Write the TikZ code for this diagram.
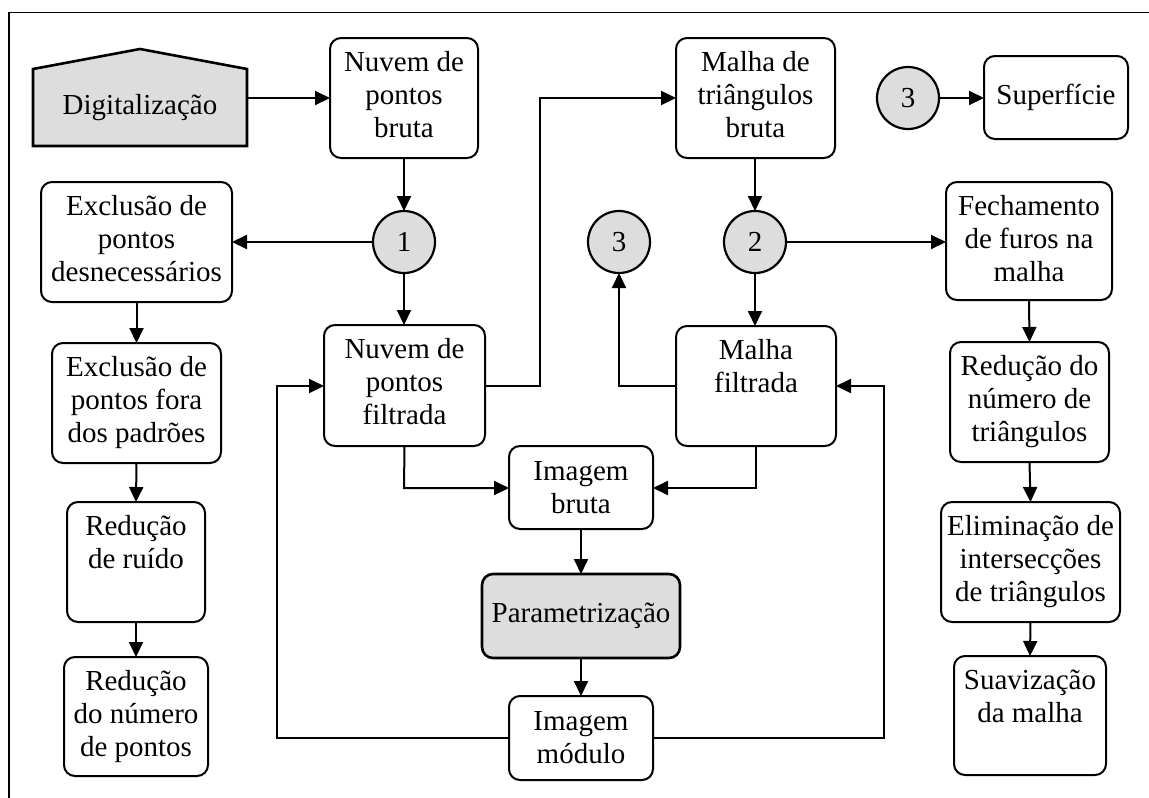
\documentclass[tikz,border=0pt]{standalone}
\usepackage{fontspec}
\setmainfont{Liberation Serif}
\usetikzlibrary{arrows.meta}
\definecolor{boxgray}{HTML}{DDDDDD}
\newcommand\topbox[3]{\parbox[c][#2pt][t]{#1pt}{\centering\rule{0pt}{33pt}#3}}
\newcommand\midbox[3]{\parbox[c][#2pt][c]{#1pt}{\centering #3}}
\tikzset{
  box/.style={draw, rounded corners=11pt, line width=2pt, inner sep=0pt, outer sep=0pt},
  graybox/.style={box, fill=boxgray, line width=2.6pt},
  conn/.style={draw, line width=2.2pt, circle, fill=boxgray, minimum size=62pt, inner sep=0pt, outer sep=0pt},
  arr/.style={line width=2pt, -{Triangle[length=15pt,width=14pt]}},
}
\begin{document}
\begin{tikzpicture}[x=1pt,y=-1pt,font=\fontsize{29}{33}\selectfont]
\useasboundingbox (0,0) rectangle (1149,798);
% frame
\draw[line width=1.6pt] (9,800) -- (9,12.5) -- (1152,12.5);
% Digitalizacao
\draw[line width=2.6pt, fill=boxgray] (33,146) -- (33,69) -- (140,49) -- (247,69) -- (247,146) -- cycle;
\node[inner sep=0pt, minimum width=214pt, minimum height=77pt] (dig) at (140,107.5) {Digitalização};
% boxes
\node[box] (nb) at (404,98) {\topbox{148}{120}{Nuvem de\\pontos\\bruta}};
\node[box] (ex1) at (136.5,242) {\topbox{191}{120}{Exclusão de\\pontos\\desnecessários}};
\node[box] (ex2) at (136.5,403) {\topbox{169}{120}{Exclusão de\\pontos fora\\dos padrões}};
\node[box] (rr) at (136,562) {\topbox{138}{120}{Redução\\de ruído}};
\node[box] (rn) at (136,716.5) {\topbox{144}{119}{Redução\\do número\\de pontos}};
\node[box] (nf) at (404.5,385.5) {\topbox{161}{121}{Nuvem de\\pontos\\filtrada}};
\node[box] (mb) at (755.5,98) {\topbox{159}{120}{Malha de\\triângulos\\bruta}};
\node[box] (mf) at (756,386) {\topbox{160}{120}{Malha\\filtrada}};
\node[box] (ib) at (581,487.5) {\midbox{144}{83}{Imagem\\bruta}};
\node[graybox] (pz) at (581,616) {\midbox{198}{84}{Parametrização}};
\node[box] (im) at (581,738) {\midbox{144}{84}{Imagem\\módulo}};
\node[box] (fe) at (1029,241) {\topbox{166}{118}{Fechamento\\de furos na\\malha}};
\node[box] (rt) at (1029.5,402) {\topbox{159}{120}{Redução do\\número de\\triângulos}};
\node[box] (el) at (1030.5,562) {\topbox{179}{120}{Eliminação de\\intersecções\\de triângulos}};
\node[box] (sv) at (1030,715.5) {\topbox{152}{119}{Suavização\\da malha}};
\node[box] (su) at (1056,97.5) {\midbox{144}{83}{Superfície}};
% connectors (circles)
\node[conn] (c1) at (404,242) {1};
\node[conn] (c2) at (755,242) {2};
\node[conn] (c3) at (619,242) {3};
\node[conn] (c3b) at (908,98) {3};
% junction coordinates
\coordinate (j1) at (540,98);
\coordinate (j2) at (619,386);
\coordinate (j3) at (404,488);
\coordinate (j4) at (756,488);
\coordinate (j5) at (277,738);
\coordinate (j6) at (277,386);
\coordinate (j7) at (884,738);
\coordinate (j8) at (884,386);
% arrows
\draw[arr] (dig.east |- nb.west) -- (nb.west);
\draw[arr] (nb.south) -- (c1.north);
\draw[arr] (c1.west) -- (ex1.east);
\draw[arr] (c1.south) -- (nf.north -| c1);
\draw[arr] (ex1.south) -- (ex2.north);
\draw[arr] (ex2.south) -- (rr.north);
\draw[arr] (rr.south) -- (rn.north);
\draw[arr] (nf.east) -| (j1) -- (j1 -| mb.west);
\draw[arr] (mb.south -| c2) -- (c2.north);
\draw[arr] (c2.east) -- (c2.east -| fe.west);
\draw[arr] (c2.south) -- (mf.north -| c2);
\draw[arr] (mf.west) -- (j2) -- (c3.south);
\draw[arr] (fe.south) -- (rt.north);
\draw[arr] (rt.south) -- (el.north);
\draw[arr] (el.south) -- (sv.north);
\draw[arr] (c3b.east) -- (c3b.east -| su.west);
\draw[arr] (nf.south) -- (j3) -- (j3 -| ib.west);
\draw[arr] (mf.south) -- (j4) -- (j4 -| ib.east);
\draw[arr] (ib.south) -- (pz.north);
\draw[arr] (pz.south) -- (im.north);
\draw[arr] (im.west) -- (j5) -- (j6) -- (j6 -| nf.west);
\draw[arr] (im.east) -- (j7) -- (j8) -- (j8 -| mf.east);
\end{tikzpicture}
\end{document}
